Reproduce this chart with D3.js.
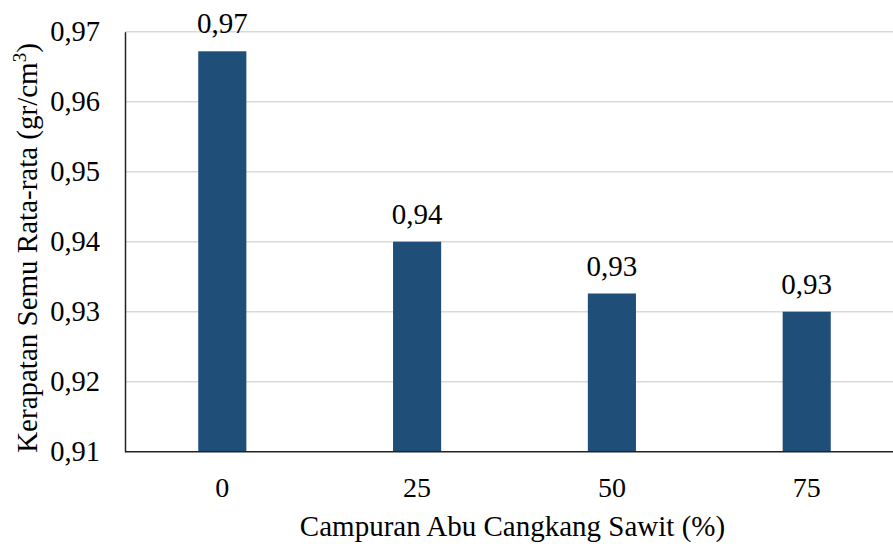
<!DOCTYPE html>
<html>
<head>
<meta charset="utf-8">
<script src="https://cdn.jsdelivr.net/npm/d3@7"></script>
<style>
  html, body { margin: 0; padding: 0; background: #fff; }
  svg { display: block; }
</style>
</head>
<body>
<svg id="chart" width="893" height="544"></svg>
<script>
// Apparent density by palm-shell ash mixture
const categories = ["0", "25", "50", "75"];
const densities = [0.9672, 0.9400, 0.9326, 0.9300];
const yTicks = [0.91, 0.92, 0.93, 0.94, 0.95, 0.96, 0.97];
const xTitle = "Campuran Abu Cangkang Sawit (%)";
const yTitle = "Kerapatan Semu Rata-rata (gr/cm";

const FONT = "Liberation Serif";
const svg = d3.select("#chart");
const plotLeft = 125, plotRight = 904, plotTop = 31.7, plotBottom = 451.7;

const fmt = v => d3.format(".2f")(v).replace(".", ",");

const x = d3.scaleBand().domain(categories).range([plotLeft, plotRight]).paddingInner(0.753).paddingOuter(0.376);
const y = d3.scaleLinear().domain([0.91, 0.97]).range([plotBottom, plotTop]);

// horizontal gridlines
svg.append("g")
  .selectAll("line")
  .data(yTicks.slice(1))
  .join("line")
  .attr("x1", plotLeft).attr("x2", 893)
  .attr("y1", d => y(d)).attr("y2", d => y(d))
  .attr("stroke", "#d9d9d9").attr("stroke-width", 1.5);

// bars
svg.append("g")
  .selectAll("rect")
  .data(categories)
  .join("rect")
  .attr("x", d => x(d))
  .attr("width", x.bandwidth())
  .attr("y", (d, i) => y(densities[i]))
  .attr("height", (d, i) => plotBottom - y(densities[i]))
  .attr("fill", "#1f4e79");

// value labels
svg.append("g")
  .selectAll("text")
  .data(categories)
  .join("text")
  .attr("x", d => x(d) + x.bandwidth() / 2)
  .attr("y", (d, i) => y(densities[i]) - 18)
  .attr("text-anchor", "middle")
  .attr("fill", "#000")
  .style("font-family", FONT)
  .style("font-size", "29px")
  .text((d, i) => fmt(densities[i]));

// y axis
const yAxis = svg.append("g")
  .attr("transform", `translate(${plotLeft},0)`)
  .call(d3.axisLeft(y).tickValues(yTicks).tickSize(0).tickPadding(25).tickFormat(fmt));
yAxis.select(".domain").attr("stroke", "#222").attr("stroke-width", 1.5);
yAxis.selectAll("text").attr("dy", "0.3em").attr("fill", "#000")
  .style("font-family", FONT).style("font-size", "28.5px");

// x axis
const xAxis = svg.append("g")
  .attr("transform", `translate(0,${plotBottom})`)
  .call(d3.axisBottom(x).tickSize(0));
xAxis.select(".domain").attr("d", `M${plotLeft},0H893`).attr("stroke", "#222").attr("stroke-width", 1.5);
xAxis.selectAll("text").attr("y", 45.5).attr("dy", 0).attr("fill", "#000")
  .style("font-family", FONT).style("font-size", "28px");

// axis titles
svg.append("text")
  .attr("x", 512.5).attr("y", 536)
  .attr("text-anchor", "middle")
  .attr("fill", "#000")
  .style("font-family", FONT).style("font-size", "29px")
  .text(xTitle);

const yt = svg.append("text")
  .attr("transform", `translate(37,248) rotate(-90)`)
  .attr("text-anchor", "middle")
  .attr("fill", "#000")
  .style("font-family", FONT).style("font-size", "29px");
yt.append("tspan").text(yTitle);
yt.append("tspan").attr("dy", -11).style("font-size", "19px").text("3");
yt.append("tspan").attr("dy", 11).text(")");
</script>
</body>
</html>
